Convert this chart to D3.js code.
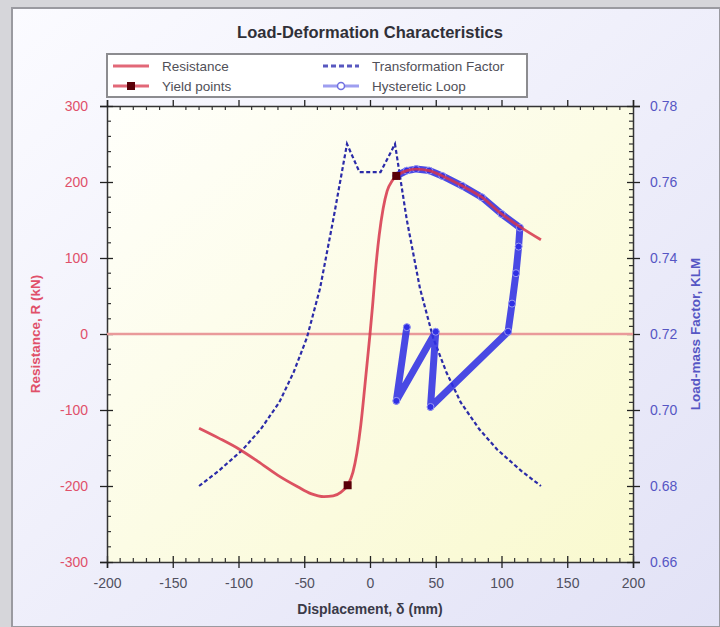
<!DOCTYPE html>
<html>
<head>
<meta charset="utf-8">
<script src="https://cdn.jsdelivr.net/npm/d3@7"></script>
<style>
  html, body { margin: 0; padding: 0; background: #d9d9de; }
  svg { display: block; font-family: "Liberation Sans", Arial, sans-serif; }
</style>
</head>
<body>
<script>
// Resistance (backbone) curve, kN vs mm
const resX = [-130, -115, -100, -85, -70, -55, -45, -35, -28, -22, -17, -13, -10, -7, -4, -2, 0,
              2, 4, 7, 10, 13, 17, 22, 28, 35, 45, 55, 70, 85, 100, 115, 130];
const resR = [-124, -137, -151, -168, -186, -201, -210, -214, -213, -208, -199, -182, -157, -120, -70, -35, 0,
              38, 80, 130, 165, 188, 202, 210, 215, 217, 215, 208, 195, 180, 158, 140, 124];

// Yield points
const yieldX = [-17, 20];
const yieldR = [-199, 208];

// Transformation (load-mass) factor, right axis
const tfX = [-130, -115, -97, -83, -69, -58, -48, -38, -28, -17.5, -8, 8, 19, 28, 38, 48, 58, 69, 83, 97, 115, 130];
const tfK = [0.680, 0.684, 0.6895, 0.695, 0.702, 0.710, 0.719, 0.732, 0.750, 0.770, 0.7626,
             0.7626, 0.770, 0.750, 0.732, 0.719, 0.710, 0.702, 0.695, 0.6895, 0.684, 0.680];

// Hysteretic loop
const hystX = [20, 28, 35, 45, 55, 70, 85, 100, 114, 113, 111, 108, 105, 46, 50, 20, 28];
const hystR = [208, 215, 217, 215, 208, 195, 180, 158, 140, 115, 80, 40, 3, -96, 3, -88, 9];

const xTicks = [-200, -150, -100, -50, 0, 50, 100, 150, 200];
const rTicks = [-300, -200, -100, 0, 100, 200, 300];
const kTicks = [0.66, 0.68, 0.70, 0.72, 0.74, 0.76, 0.78];

const W = 720, H = 627;
const plot = { left: 107, right: 633, top: 106, bottom: 562 };

const redLine = '#d6344a';
const blueDash = '#2b2ba8';
const blueLoop = '#3030e4';
const leftTxt = '#e0506a';
const rightTxt = '#5656c4';

const intFmt = d => String(d);   // plain hyphen minus like the original

const svg = d3.select('body').append('svg')
    .attr('width', W)
    .attr('height', H);

const defs = svg.append('defs');
const bgGrad = defs.append('linearGradient')
    .attr('id', 'bg').attr('x1', 0).attr('y1', 0).attr('x2', 1).attr('y2', 1);
bgGrad.append('stop').attr('offset', '0%').attr('stop-color', '#fbfbff');
bgGrad.append('stop').attr('offset', '100%').attr('stop-color', '#e2e2f6');

const plotGrad = defs.append('linearGradient')
    .attr('id', 'plotbg').attr('x1', 0).attr('y1', 0).attr('x2', 1).attr('y2', 1);
plotGrad.append('stop').attr('offset', '0%').attr('stop-color', '#fffffb');
plotGrad.append('stop').attr('offset', '100%').attr('stop-color', '#f9f9cf');

defs.append('clipPath').attr('id', 'clip')
    .append('rect')
    .attr('x', plot.left).attr('y', plot.top)
    .attr('width', plot.right - plot.left).attr('height', plot.bottom - plot.top);

// window frame
svg.append('rect')
    .attr('x', 0).attr('y', 0).attr('width', W).attr('height', H)
    .attr('fill', '#d6d6da');
svg.append('rect')
    .attr('x', 12).attr('y', 8).attr('width', W - 12).attr('height', H - 8)
    .attr('fill', 'url(#bg)')
    .attr('stroke', '#9a9aa0')
    .attr('stroke-width', 2);

const x = d3.scaleLinear().domain([-200, 200]).range([plot.left, plot.right]);
const yR = d3.scaleLinear().domain([-300, 300]).range([plot.bottom, plot.top]);
const yK = d3.scaleLinear().domain([0.66, 0.78]).range([plot.bottom, plot.top]);

svg.append('rect')
    .attr('x', plot.left).attr('y', plot.top)
    .attr('width', plot.right - plot.left).attr('height', plot.bottom - plot.top)
    .attr('fill', 'url(#plotbg)');

// title
svg.append('text')
    .attr('x', 370).attr('y', 38)
    .attr('text-anchor', 'middle')
    .attr('font-size', 16.5)
    .attr('font-weight', 'bold')
    .attr('fill', '#303038')
    .text('Load-Deformation Characteristics');

// axes
function styleAxis(gAxis, color) {
    gAxis.select('.domain').attr('stroke', '#333').attr('stroke-width', 1.5);
    gAxis.selectAll('.tick line').attr('stroke', '#222').attr('stroke-width', 1.3);
    gAxis.selectAll('.tick text')
        .attr('fill', color)
        .attr('font-size', 14);
}

const gx = svg.append('g')
    .attr('transform', `translate(0,${plot.bottom})`)
    .call(d3.axisBottom(x).tickValues(xTicks).tickSize(6).tickPadding(10).tickFormat(intFmt));
gx.selectAll('.tick line').attr('y1', -6);
styleAxis(gx, '#505060');

const gxTop = svg.append('g')
    .attr('transform', `translate(0,${plot.top})`)
    .call(d3.axisTop(x).tickValues(xTicks).tickSize(6).tickFormat(''));
styleAxis(gxTop, '#505060');

const gl = svg.append('g')
    .attr('transform', `translate(${plot.left},0)`)
    .call(d3.axisLeft(yR).tickValues(rTicks).tickSize(7).tickPadding(12).tickFormat(intFmt));
gl.selectAll('.tick line').attr('x1', 6);
styleAxis(gl, leftTxt);

const gr = svg.append('g')
    .attr('transform', `translate(${plot.right},0)`)
    .call(d3.axisRight(yK).tickValues(kTicks).tickSize(7).tickPadding(10).tickFormat(d3.format('.2f')));
gr.selectAll('.tick line').attr('x1', -6);
styleAxis(gr, rightTxt);

// minor ticks
const minorX = d3.range(-200, 201, 10).filter(v => v % 50 !== 0);
const minorR = d3.range(-300, 301, 20).filter(v => v % 100 !== 0);
const minorK = d3.range(0, 61).map(i => 0.66 + i * 0.002).filter((v, i) => i % 10 !== 0);

const minor = svg.append('g').attr('stroke', '#333').attr('stroke-width', 1.2);
minor.selectAll('.mxb').data(minorX).join('line')
    .attr('x1', d => x(d)).attr('x2', d => x(d))
    .attr('y1', plot.bottom).attr('y2', plot.bottom - 4);
minor.selectAll('.mxt').data(minorX).join('line')
    .attr('x1', d => x(d)).attr('x2', d => x(d))
    .attr('y1', plot.top).attr('y2', plot.top + 4);
minor.selectAll('.mr').data(minorR).join('line')
    .attr('x1', plot.left).attr('x2', plot.left + 4)
    .attr('y1', d => yR(d)).attr('y2', d => yR(d));
minor.selectAll('.mk').data(minorK).join('line')
    .attr('x1', plot.right).attr('x2', plot.right - 4)
    .attr('y1', d => yK(d)).attr('y2', d => yK(d));

// axis titles
svg.append('text')
    .attr('x', 370).attr('y', 614)
    .attr('text-anchor', 'middle')
    .attr('font-size', 14)
    .attr('font-weight', 'bold')
    .attr('fill', '#3a3a48')
    .text('Displacement, δ (mm)');

svg.append('text')
    .attr('transform', `translate(40,334) rotate(-90)`)
    .attr('text-anchor', 'middle')
    .attr('font-size', 13.5)
    .attr('font-weight', 'bold')
    .attr('fill', leftTxt)
    .text('Resistance, R (kN)');

svg.append('text')
    .attr('transform', `translate(700,334) rotate(-90)`)
    .attr('text-anchor', 'middle')
    .attr('font-size', 13.5)
    .attr('font-weight', 'bold')
    .attr('fill', rightTxt)
    .text('Load-mass Factor, KLM');

// data layers
const g = svg.append('g').attr('clip-path', 'url(#clip)');

// zero line
g.append('line')
    .attr('x1', plot.left).attr('x2', plot.right)
    .attr('y1', yR(0)).attr('y2', yR(0))
    .attr('stroke', '#e99a9a')
    .attr('stroke-width', 2.5);

const tfData = tfX.map((v, i) => [v, tfK[i]]);
g.append('path')
    .datum(tfData)
    .attr('fill', 'none')
    .attr('stroke', blueDash)
    .attr('stroke-width', 2.2)
    .attr('stroke-dasharray', '4,2.5')
    .attr('d', d3.line().x(d => x(d[0])).y(d => yK(d[1])));

const hystData = hystX.map((v, i) => [v, hystR[i]]);
g.append('path')
    .datum(hystData)
    .attr('fill', 'none')
    .attr('stroke', blueLoop)
    .attr('stroke-width', 7)
    .attr('stroke-linejoin', 'round')
    .attr('stroke-linecap', 'round')
    .attr('opacity', 0.88)
    .attr('d', d3.line().x(d => x(d[0])).y(d => yR(d[1])));
g.selectAll('.hpt').data(hystData).join('circle')
    .attr('cx', d => x(d[0])).attr('cy', d => yR(d[1]))
    .attr('r', 3.5)
    .attr('fill', blueLoop)
    .attr('stroke', '#9a9af2')
    .attr('stroke-width', 1);

const resData = resX.map((v, i) => [v, resR[i]]);
g.append('path')
    .datum(resData)
    .attr('fill', 'none')
    .attr('stroke', redLine)
    .attr('stroke-width', 2.8)
    .attr('opacity', 0.85)
    .attr('d', d3.line().curve(d3.curveMonotoneX).x(d => x(d[0])).y(d => yR(d[1])));

g.selectAll('.ypt').data(yieldX.map((v, i) => [v, yieldR[i]])).join('rect')
    .attr('x', d => x(d[0]) - 4).attr('y', d => yR(d[1]) - 4)
    .attr('width', 8).attr('height', 8)
    .attr('fill', '#5a0008');

// legend
const lg = svg.append('g');
lg.append('rect')
    .attr('x', 107).attr('y', 54).attr('width', 420).attr('height', 43)
    .attr('fill', '#ffffff')
    .attr('stroke', '#8c8c90')
    .attr('stroke-width', 2);

const legendItems = [
    { label: 'Resistance', col: 0, row: 0, kind: 'res' },
    { label: 'Yield points', col: 0, row: 1, kind: 'yield' },
    { label: 'Transformation Factor', col: 1, row: 0, kind: 'tf' },
    { label: 'Hysteretic Loop', col: 1, row: 1, kind: 'hyst' }
];
const colX = [113, 323];
const rowY = [66, 86];

legendItems.forEach(item => {
    const sx = colX[item.col], sy = rowY[item.row];
    if (item.kind === 'res' || item.kind === 'yield') {
        lg.append('line').attr('x1', sx).attr('x2', sx + 36).attr('y1', sy).attr('y2', sy)
            .attr('stroke', '#e26878').attr('stroke-width', 3);
    }
    if (item.kind === 'yield') {
        lg.append('rect').attr('x', sx + 14).attr('y', sy - 4).attr('width', 8).attr('height', 8)
            .attr('fill', '#5a0008');
    }
    if (item.kind === 'tf') {
        lg.append('line').attr('x1', sx).attr('x2', sx + 36).attr('y1', sy).attr('y2', sy)
            .attr('stroke', '#5858c0').attr('stroke-width', 3).attr('stroke-dasharray', '5,3');
    }
    if (item.kind === 'hyst') {
        lg.append('line').attr('x1', sx).attr('x2', sx + 36).attr('y1', sy).attr('y2', sy)
            .attr('stroke', '#9e9ef0').attr('stroke-width', 3);
        lg.append('circle').attr('cx', sx + 18).attr('cy', sy).attr('r', 3.5)
            .attr('fill', '#ffffff').attr('stroke', '#7070e0').attr('stroke-width', 1.5);
    }
    lg.append('text')
        .attr('x', sx + 49).attr('y', sy + 5)
        .attr('font-size', 13.5)
        .attr('fill', '#505058')
        .text(item.label);
});
</script>
</body>
</html>
